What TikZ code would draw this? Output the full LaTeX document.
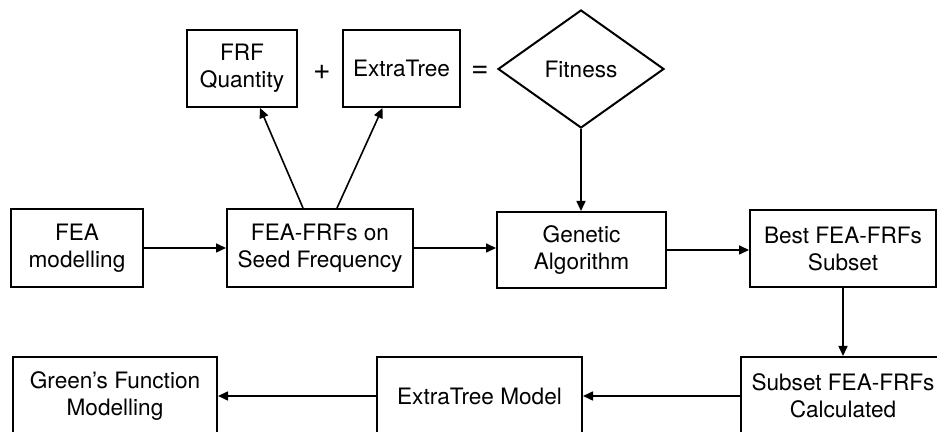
\documentclass[tikz,border=0pt]{standalone}
\usepackage{fontspec}
\setmainfont{TeX Gyre Heros}
\usetikzlibrary{positioning,shapes.geometric,arrows.meta}
\tikzset{>={Triangle[length=5pt,width=4.5pt]}}
\tikzset{
  blk/.style={draw,line width=1pt,align=center,inner sep=0pt,
    minimum height=39pt,font=\fontsize{11.3}{13.5}\selectfont},
  dec/.style={draw,diamond,line width=1pt,aspect=1.4,inner sep=0pt,
    minimum width=83pt,minimum height=59pt,font=\fontsize{11.3}{13.5}\selectfont},
  op/.style={font=\fontsize{15}{17}\selectfont},
  flow/.style={->,line width=.8pt}
}

\begin{document}
\begin{tikzpicture}[x=.5pt,y=.5pt]
\useasboundingbox (0,0) rectangle (937,432);
\clip (0,0) rectangle (937,432);
% middle row
\node[blk,minimum width=66pt] (fea) at (77,184) {FEA\\modelling};
\node[blk,minimum width=93pt] (seed) at (320,184) {FEA-FRFs on\\Seed Frequency};
\node[blk,minimum width=84.5pt,minimum height=38pt] (ga) at (581.5,182) {Genetic\\Algorithm};
\node[blk,minimum width=93pt,minimum height=38.5pt] (best) at (843,183.5) {Best FEA-FRFs\\Subset};
% top row
\node[blk,minimum width=55pt,minimum height=38.5pt] (frf) at (242,363.5) {FRF\\Quantity};
\node[blk,minimum width=58.5pt,minimum height=38.5pt] (xtree) at (401.5,363.5) {ExtraTree};
\node[dec] (fit) at (581,363) {Fitness};
\node[op] (plus) at (322,360) {+};
\node[op] (eq) at (480,360) {=};
% bottom row
\node[blk,minimum width=102pt] (green) at (115,36) {Green's Function\\Modelling};
\node[blk,minimum width=102.5pt] (xmodel) at (479.5,36) {ExtraTree Model};
\node[blk,minimum width=102pt] (subset) at (843,36) {Subset FEA-FRFs\\Calculated};
% arrows
\draw[flow] (fea.east) -- (fea.east -| seed.west);
\draw[flow] (seed.east) -- (seed.east -| ga.west);
\draw[flow] (ga.east) -- (ga.east -| best.west);
\draw[flow] ([xshift=-8.5pt]seed.north) -- ([xshift=9pt]frf.south);
\draw[flow] ([xshift=8.5pt]seed.north) -- ([xshift=-9.5pt]xtree.south);
\draw[flow] (fit.south) -- (fit.south |- ga.north);
\draw[flow] (best.south) -- (subset.north);
\draw[flow] (subset.west) -- (xmodel.east);
\draw[flow] (xmodel.west) -- (green.east);
\end{tikzpicture}
\end{document}
